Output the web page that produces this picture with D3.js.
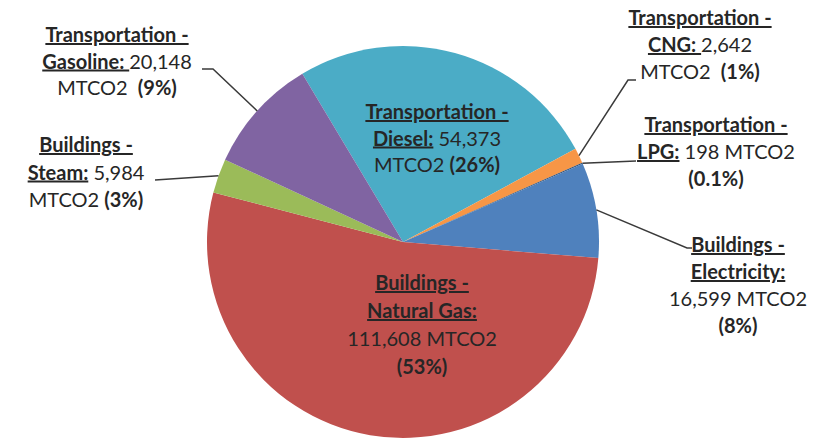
<!DOCTYPE html>
<html>
<head>
<meta charset="utf-8">
<title>MTCO2 by source</title>
<script src="https://cdn.jsdelivr.net/npm/d3@7/dist/d3.min.js"></script>
<style>
  * { margin: 0; padding: 0; }
  body { background: #fff; }
  svg text { font-family: Lato, "Open Sans", sans-serif; fill: #262626; font-size: 20px; }
</style>
</head>
<body>
<div id="chart"></div>
<script>
  // slice data, clockwise from the top
  var categories = ["Transportation - Diesel", "Transportation - CNG", "Transportation - LPG",
                    "Buildings - Electricity", "Buildings - Natural Gas", "Buildings - Steam",
                    "Transportation - Gasoline"];
  var values   = [54373, 2642, 198, 16599, 111608, 5984, 20148];
  var percents = ["26%", "1%", "0.1%", "8%", "53%", "3%", "9%"];
  var colors   = ["#4bacc6", "#f79646", "#2c4d75", "#4f81bd", "#c0504d", "#9bbb59", "#8064a2"];

  var W = 830, H = 439;
  var cx = 403, cy = 242, R = 196;

  var svg = d3.select("#chart").append("svg").attr("width", W).attr("height", H);
  var g = svg.append("g").attr("transform", "translate(" + cx + "," + cy + ")");

  var data = categories.map(function(c, i){ return {name: c, value: values[i], pct: percents[i], color: colors[i]}; });

  var startA = -30.9 * Math.PI / 180;
  var pie = d3.pie().value(function(d){ return d.value; }).sort(null)
              .startAngle(startA).endAngle(startA + 2 * Math.PI);
  var arcs = pie(data);
  var arc = d3.arc().innerRadius(0).outerRadius(R);
  var edge = d3.arc().innerRadius(R).outerRadius(R);

  g.selectAll("path.slice").data(arcs).enter().append("path")
    .attr("class", "slice")
    .attr("d", arc)
    .attr("fill", function(d){ return d.data.color; });

  function fmt(v){ return d3.format(",")(v); }

  // label text: lines of [text, bold, underline]
  function labelLines(d){
    var parts = d.name.split(" - ");
    var grp = parts[0] + " -", sub = parts[1] + ":";
    var v = fmt(d.value), p = "(" + d.pct + ")";
    switch (d.name) {
      case "Transportation - Gasoline":
        return [[[grp,1,1]], [[sub + " ",1,1],[v,0,0]], [["MTCO2  ",0,0],[p,1,0]]];
      case "Buildings - Steam":
        return [[[grp,1,1]], [[sub,1,1],[" " + v,0,0]], [["MTCO2 ",0,0],[p,1,0]]];
      case "Transportation - Diesel":
        return [[[grp,1,1]], [[sub,1,1],[" " + v,0,0]], [["MTCO2 ",0,0],[p,1,0]]];
      case "Transportation - CNG":
        return [[[grp,1,1]], [[sub + " ",1,1],[v,0,0]], [["MTCO2  ",0,0],[p,1,0]]];
      case "Transportation - LPG":
        return [[[grp,1,1]], [[sub,1,1],[" " + v + " MTCO2",0,0]], [[p,1,0]]];
      default:
        return [[[grp,1,1]], [[sub,1,1]], [[v + " MTCO2",0,0]], [[p,1,0]]];
    }
  }

  // label anchors (centre x, first baseline y, line step) and leader bends
  var layout = {
    "Transportation - Diesel":   {x: 437, y: 119, step: 26.5},
    "Transportation - CNG":      {x: 700, y: 25,  step: 27, bend: [[628, 80], [636, 80]]},
    "Transportation - LPG":      {x: 716, y: 132, step: 27, bend: [[636, 161]]},
    "Buildings - Electricity":   {x: 738, y: 252, step: 27, bend: [[687, 248], [692, 248]]},
    "Buildings - Natural Gas":   {x: 422, y: 290, step: 28},
    "Buildings - Steam":         {x: 86,  y: 152, step: 27.5, bend: [[155, 180]]},
    "Transportation - Gasoline": {x: 117, y: 42,  step: 26.5, bend: [[213, 69], [202, 69]]}
  };

  var labels = svg.append("g");
  arcs.forEach(function(a){
    var L = layout[a.data.name];
    var t = labels.append("text").attr("text-anchor", "middle");
    labelLines(a.data).forEach(function(line, li){
      line.forEach(function(seg, si){
        var ts = t.append("tspan").text(seg[0])
          .attr("font-weight", seg[1] ? "bold" : "normal")
          .attr("text-decoration", seg[2] ? "underline" : "none")
          .style("white-space", "pre");
        if (si === 0) ts.attr("x", L.x).attr("y", L.y + li * L.step);
      });
    });
    if (L.bend) {
      var p = edge.centroid(a);
      var pts = [[cx + p[0], cy + p[1]]].concat(L.bend);
      labels.append("path")
        .attr("d", d3.line()(pts))
        .attr("fill", "none").attr("stroke", "#3a3a3a").attr("stroke-width", 1.5);
    }
  });
</script>
</body>
</html>
